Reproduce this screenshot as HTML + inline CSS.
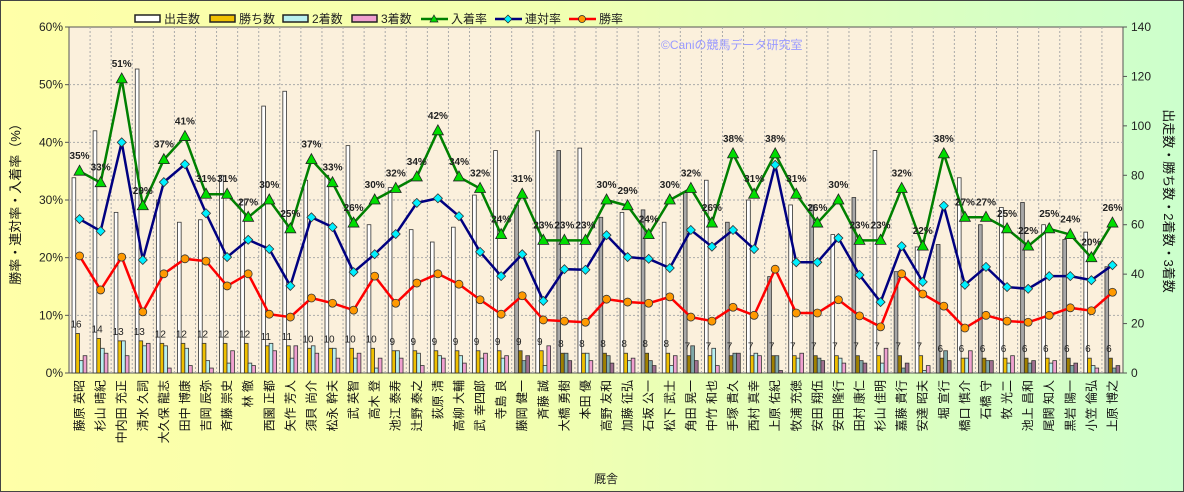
<!DOCTYPE html>
<html><head><meta charset="utf-8"><style>
html,body{margin:0;padding:0;}
body{width:1184px;height:492px;overflow:hidden;font-family:"Liberation Sans","Noto Sans CJK JP",sans-serif;}
#wrap{position:relative;width:1182px;height:490px;border:1px solid #444;background:linear-gradient(90deg,#ffffa8 0%,#f2ffb0 45%,#ccffcc 100%);}
svg{position:absolute;left:0;top:0;}
</style></head><body>
<div id="wrap">
<svg id="chart" width="1182" height="490" xmlns="http://www.w3.org/2000/svg"></svg>
</div>
<script>
const trainers=["藤原 英昭","杉山 晴紀","中内田 充正","清水 久詞","大久保 龍志","田中 博康","吉岡 辰弥","斉藤 崇史","林 徹","西園 正都","矢作 芳人","須貝 尚介","松永 幹夫","武 英智","高木 登","池江 泰寿","辻野 泰之","荻原 清","高柳 大輔","武 幸四郎","寺島 良","藤岡 健一","斉藤 誠","大橋 勇樹","本田 優","高野 友和","加藤 征弘","石坂 公一","松下 武士","角田 晃一","中竹 和也","手塚 貴久","西村 真幸","上原 佑紀","牧浦 充徳","安田 翔伍","安田 隆行","田村 康仁","杉山 佳明","嘉藤 貴行","安達 昭夫","堀 宣行","橋口 慎介","石橋 守","牧 光二","池上 昌和","尾関 知人","黒岩 陽一","小笠 倫弘","上原 博之"];
const starts=[79,98,65,123,70,61,62,80,70,108,114,78,80,92,60,75,58,53,59,72,90,68,98,90,91,63,65,66,61,73,78,61,70,39,68,68,56,71,90,41,51,52,79,60,67,69,60,54,57,43];
const wins=[16,14,13,13,12,12,12,12,12,11,11,10,10,10,10,9,9,9,9,9,9,9,9,8,8,8,8,8,8,7,7,7,7,7,7,7,7,7,7,7,7,6,6,6,6,6,6,6,6,6];
const seconds=[5,10,13,11,11,10,5,4,4,12,6,11,10,6,2,9,8,7,7,6,6,5,3,8,8,7,5,5,3,11,10,8,8,7,6,6,6,5,4,2,1,9,6,5,4,4,4,3,3,2];
const thirds=[7,8,7,12,2,3,2,9,3,9,11,8,6,8,6,6,3,6,4,8,7,7,11,5,5,4,6,3,7,5,3,8,7,1,8,5,4,4,10,4,3,5,9,5,7,5,5,4,2,3];
const highlight=[0,0,0,0,0,0,0,0,0,0,0,0,0,0,0,0,0,0,0,0,0,1,0,1,0,1,0,1,0,1,0,1,0,1,0,1,0,1,0,1,0,1,0,1,0,1,0,1,0,1];
const placeRate=[35,33,51,29,37,41,31,31,27,30,25,37,33,26,30,32,34,42,34,32,24,31,23,23,23,30,29,24,30,32,26,38,31,38,31,26,30,23,23,32,22,38,27,27,25,22,25,24,20,26];
const rentaiRate=[26.7,24.6,40,19.6,33.1,36.2,27.7,20.1,23.1,21.5,15.1,27,25.3,17.5,20.6,24.1,29.5,30.3,27.2,21,16.8,20.6,12.5,18,17.9,23.9,20.1,19.8,18.2,24.8,21.9,24.8,21.5,36.1,19.2,19.2,23.4,17,12.3,22,15.8,29,15.3,18.4,14.9,14.6,16.8,16.8,16.1,18.7];
const winRate=[20.3,14.4,20.1,10.6,17.2,19.8,19.4,15.1,17.2,10.2,9.7,13,12.1,10.9,16.8,12.1,15.6,17.2,15.4,12.7,10.2,13.4,9.2,9,8.8,12.8,12.3,12.1,13.2,9.7,9,11.4,10,18,10.4,10.4,12.7,9.9,8,17.2,13.7,11.6,7.8,10,9,8.8,10,11.3,10.8,14];
const leftTicks=[0,10,20,30,40,50,60];
const rightTicks=[0,20,40,60,80,100,120,140];

const NS="http://www.w3.org/2000/svg";
const svg=document.getElementById('chart');
const PL=68,PR=1122,PT=26,PB=372;
const n=trainers.length, bw=(PR-PL)/n;
const xC=i=>PL+bw*(i+0.5);
const yL=v=>PB-(v/60)*(PB-PT);
const yR=v=>PB-(v/140)*(PB-PT);
function mk(tag,attrs,parent){const e=document.createElementNS(NS,tag);for(const k in attrs)e.setAttribute(k,attrs[k]);(parent||svg).appendChild(e);return e;}

// plot background
const bg=mk('rect',{x:PL,y:PT,width:PR-PL,height:PB-PT,fill:'#fbf0dc',stroke:'#555','stroke-width':1});


const grid=mk('g',{});


for(let i=1;i<n;i++){mk('line',{x1:PL+bw*i,x2:PL+bw*i,y1:PT,y2:PB,stroke:'#aaa','stroke-dasharray':'2,2','stroke-width':1},grid);}
leftTicks.forEach(t=>{if(t>0&&t<60)mk('line',{x1:PL,x2:PR,y1:yL(t),y2:yL(t),stroke:'#aaa','stroke-dasharray':'2,2','stroke-width':1},grid);});

// watermark
const wm=mk('text',{x:660,y:48,'font-size':12,fill:'#9a9aff'});
wm.textContent='©Caniの競馬データ研究室';



// axes labels
const la=mk('g',{'font-size':12,fill:'#222'});


leftTicks.forEach(t=>{const tx=mk('text',{x:62,y:yL(t)+4,'text-anchor':'end'},la);tx.textContent=t+'%';mk('line',{x1:PL-4,x2:PL,y1:yL(t),y2:yL(t),stroke:'#555'},la);});
const ra=mk('g',{'font-size':12,fill:'#222'});


rightTicks.forEach(t=>{const tx=mk('text',{x:1130,y:yR(t)+4,'text-anchor':'start'},ra);tx.textContent=t;mk('line',{x1:PR,x2:PR+4,y1:yR(t),y2:yR(t),stroke:'#555'},ra);});

const lt=mk('text',{x:0,y:0,'font-size':13,fill:'#111','text-anchor':'middle',transform:'translate(19,200) rotate(-90)'});
lt.textContent='勝率・連対率・入着率（%）';


const rt=mk('text',{x:0,y:0,'font-size':13,fill:'#111','text-anchor':'middle',transform:'translate(1163,200) rotate(90)'});
rt.textContent='出走数・勝ち数・2着数・3着数';


const xt=mk('text',{x:605,y:482,'font-size':12,fill:'#222','text-anchor':'middle'});
xt.textContent='厩舎';



// x labels
const xl=mk('g',{'font-size':12,fill:'#111'});


trainers.forEach((nm,i)=>{const tx=mk('text',{x:0,y:0,'text-anchor':'end',transform:`translate(${xC(i)+4},379) rotate(-90)`},xl);tx.textContent=nm;

});

// bars
const bars=mk('g',{});


const bwid=3.7;
const series=[[starts,'#ffffff','#a8a8a8'],[wins,'#f0c000','#a08000'],[seconds,'#b8f0f0','#80a8a8'],[thirds,'#f0a0d0','#a07090']];
for(let i=0;i<n;i++){
  series.forEach((s,k)=>{
    const v=s[0][i];const x=xC(i)-7.5+k*bwid;
    const r=mk('rect',{x:x,y:yR(v),width:bwid,height:PB-yR(v),fill:highlight[i]?s[2]:s[1],stroke:'#333','stroke-width':0.8},bars);
    
    
  });
  const wl=mk('text',{x:xC(i)-3.5,y:yR(wins[i])-6,'font-size':10,fill:'#222','text-anchor':'middle'},bars);
  wl.textContent=wins[i];
  
  
}

// lines
function line(data,color,name){
  const g=mk('g',{});
  
  
  mk('polyline',{points:data.map((v,i)=>xC(i)+','+yL(v)).join(' '),fill:'none',stroke:color,'stroke-width':2.5},g);
  return g;
}
const gw=line(winRate,'#ff0000','win-rate-line');
winRate.forEach((v,i)=>{const c=mk('circle',{cx:xC(i),cy:yL(v),r:4,fill:'#ff9900',stroke:'#333','stroke-width':0.8},gw);

});
const gr=line(rentaiRate,'#000080','rentai-rate-line');
rentaiRate.forEach((v,i)=>{const x=xC(i),y=yL(v);const d=mk('polygon',{points:`${x},${y-4.5} ${x+4.5},${y} ${x},${y+4.5} ${x-4.5},${y}`,fill:'#00f0ff',stroke:'#333','stroke-width':0.8},gr);

});
const gp=line(placeRate,'#008000','place-rate-line');
placeRate.forEach((v,i)=>{const x=xC(i),y=yL(v);const t=mk('polygon',{points:`${x},${y-6} ${x+5.5},${y+4} ${x-5.5},${y+4}`,fill:'#00dd00',stroke:'#222','stroke-width':0.8},gp);


const tx=mk('text',{x:x,y:y-12,'font-size':10,'font-weight':'bold',fill:'#222','text-anchor':'middle'},gp);tx.textContent=Math.round(v)+'%';

});

// legend
const lg=mk('g',{'font-size':12,fill:'#222'});


const barLeg=[['出走数','#ffffff',134],['勝ち数','#f0c000',209],['2着数','#b8f0f0',282],['3着数','#f0a0d0',351]];
barLeg.forEach(b=>{const r=mk('rect',{x:b[2],y:14,width:25,height:7,fill:b[1],stroke:'#222','stroke-width':1.5},lg);


const t=mk('text',{x:b[2]+29,y:22},lg);t.textContent=b[0];

});
const lineLeg=[['入着率','#008000',420,'tri'],['連対率','#000080',494,'dia'],['勝率','#ff0000',568,'cir']];
lineLeg.forEach(b=>{const x0=b[2],cx=x0+13;mk('line',{x1:x0,x2:x0+27,y1:18,y2:18,stroke:b[1],'stroke-width':2.5},lg);
if(b[3]==='tri')mk('polygon',{points:`${cx},${14} ${cx+4},${21} ${cx-4},${21}`,fill:'#00dd00',stroke:'#222','stroke-width':0.7},lg);
if(b[3]==='dia')mk('polygon',{points:`${cx},14 ${cx+4},18 ${cx},22 ${cx-4},18`,fill:'#00f0ff',stroke:'#222','stroke-width':0.7},lg);
if(b[3]==='cir')mk('circle',{cx:cx,cy:18,r:3.5,fill:'#ff9900',stroke:'#222','stroke-width':0.7},lg);
const t=mk('text',{x:x0+30,y:22},lg);t.textContent=b[0];

});
</script>
</body></html>
